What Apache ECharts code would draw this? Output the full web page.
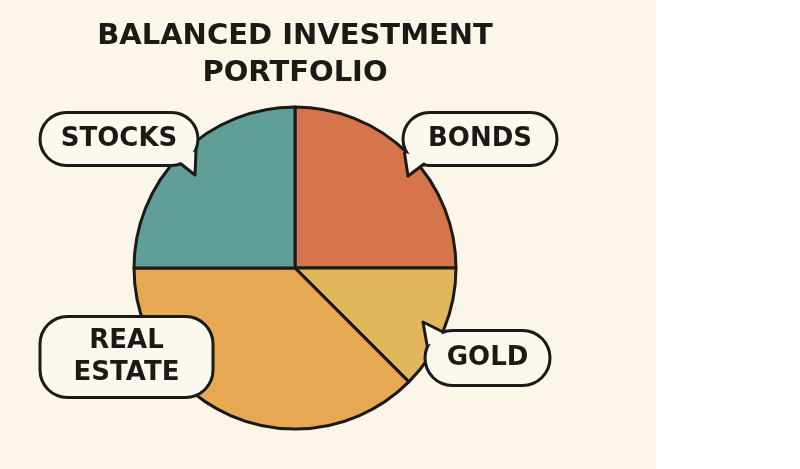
<!DOCTYPE html>
<html>
<head>
<meta charset="utf-8">
<script src="https://cdn.jsdelivr.net/npm/echarts@6/dist/echarts.min.js"></script>
<style>
html,body{margin:0;padding:0;background:#ffffff;}
#chart{width:800px;height:469px;background:linear-gradient(to right,#FCF5E9 0,#FCF5E9 656px,#ffffff 656px);}
</style>
</head>
<body>
<div id="chart"></div>
<script>
// Data
var titleLines = ['BALANCED INVESTMENT', 'PORTFOLIO'];
var categories = ['Bonds', 'Gold', 'Real Estate', 'Stocks'];
var shares = [25, 12.5, 37.5, 25];
var sliceColors = ['#D6744B', '#E1B65C', '#E6A852', '#5F9F97'];

// Label bubble layout (style, not data)
var labelCenters = {
  'Bonds': [480, 139],
  'Gold': [487.5, 358],
  'Real Estate': [126.5, 357],
  'Stocks': [119, 139]
};
var labelBox = { // inner width, vertical padding
  'Bonds': [151, 10],
  'Gold': [122, 11],
  'Real Estate': [170, 7],
  'Stocks': [155, 10]
};
// speech-bubble tails: [base1, tip, base2]
var tails = [
  {base1: [181, 164], tip: [195, 175], base2: [196, 151], center: [119, 139]},
  {base1: [404.5, 153], tip: [408, 176], base2: [424, 164], center: [480, 139]},
  {base1: [442, 331.5], tip: [423, 322], base2: [427, 345], center: [487.5, 358]}
];

var ink = '#1c1a17';
var bubbleFill = '#FDF8EF';
var chart = echarts.init(document.getElementById('chart'), null, {renderer: 'canvas'});

var tailGraphics = [];
tails.forEach(function (t) {
  var mx = (t.base1[0] + t.base2[0]) / 2, my = (t.base1[1] + t.base2[1]) / 2;
  var dx = t.center[0] - mx, dy = t.center[1] - my;
  var d = Math.sqrt(dx * dx + dy * dy);
  var inner = [mx + dx / d * 7, my + dy / d * 7];
  tailGraphics.push({
    type: 'polygon', z: 100, silent: true,
    shape: {points: [t.base1, t.tip, t.base2, inner]},
    style: {fill: bubbleFill, stroke: null}
  });
  tailGraphics.push({
    type: 'polyline', z: 101, silent: true,
    shape: {points: [t.base1, t.tip, t.base2]},
    style: {stroke: ink, lineWidth: 3, fill: null, lineJoin: 'round', lineCap: 'round'}
  });
});

chart.setOption({
  backgroundColor: 'transparent',
  animation: false,
  title: {
    text: titleLines.join('\n'),
    left: 295,
    top: 18,
    textAlign: 'center',
    padding: 0,
    textStyle: {
      fontFamily: 'DejaVu Sans',
      fontWeight: 'bold',
      fontSize: 29,
      lineHeight: 37,
      color: ink
    }
  },
  graphic: tailGraphics,
  series: [{
    type: 'pie',
    center: [295, 268],
    radius: 161,
    startAngle: 90,
    clockwise: true,
    silent: true,
    data: categories.map(function (c, i) {
      return {
        name: c, value: shares[i],
        itemStyle: {color: sliceColors[i]},
        label: {
          width: labelBox[c][0],
          padding: [labelBox[c][1], 0],
          lineHeight: c === 'Real Estate' ? 32 : 30
        }
      };
    }),
    itemStyle: {borderColor: ink, borderWidth: 3},
    label: {
      show: true,
      position: 'outside',
      alignTo: 'none',
      overflow: 'none',
      formatter: function (p) { return p.name.toUpperCase().replace(' ', '\n'); },
      fontFamily: 'DejaVu Sans',
      fontWeight: 'bold',
      fontSize: 26,
      lineHeight: 30,
      color: ink,
      align: 'center',
      backgroundColor: bubbleFill,
      borderColor: ink,
      borderWidth: 3,
      borderRadius: 26
    },
    labelLine: {show: false},
    labelLayout: function (params) {
      var c = labelCenters[categories[params.dataIndex]];
      return {x: c[0], y: c[1], align: 'center', verticalAlign: 'middle'};
    }
  }]
});
</script>
</body>
</html>
